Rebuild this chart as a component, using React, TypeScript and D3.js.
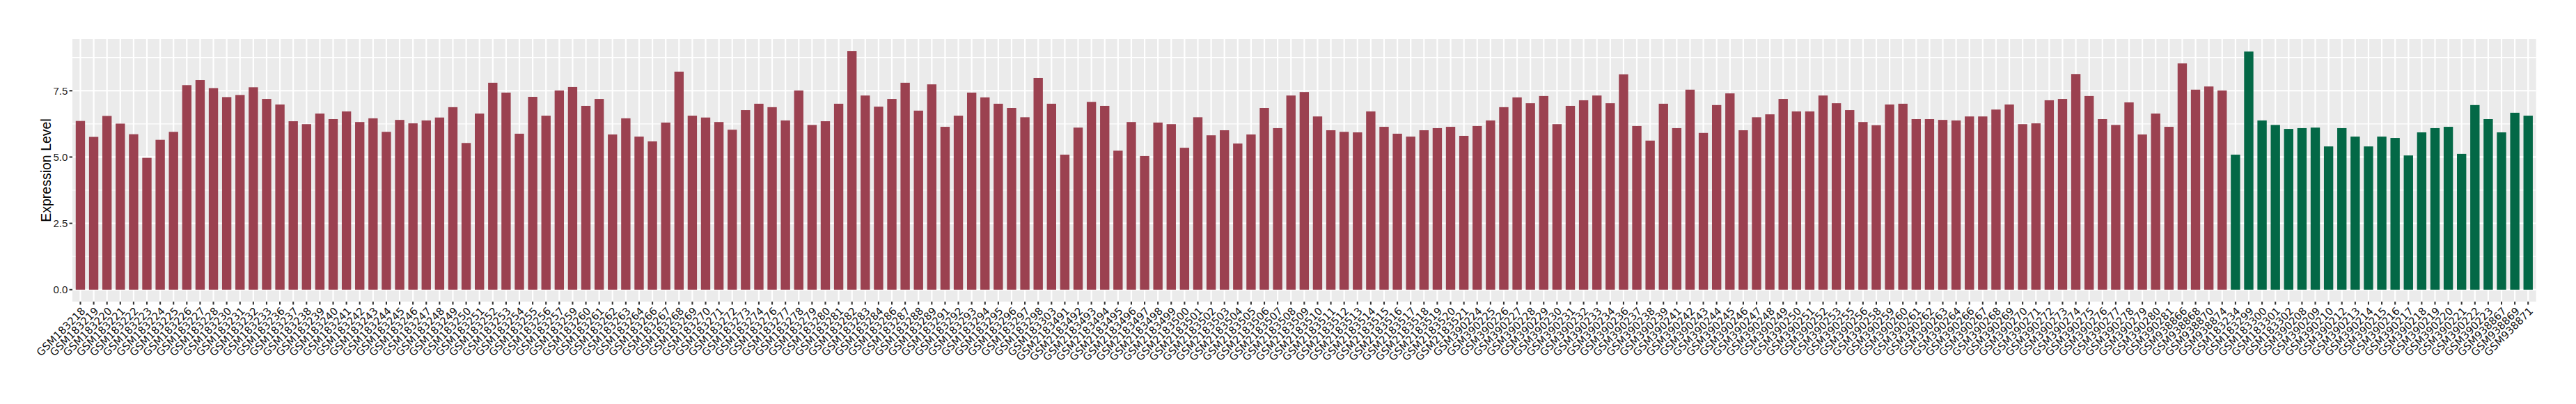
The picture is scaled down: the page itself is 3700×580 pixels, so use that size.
import React, { useEffect } from "react";
import * as d3 from "d3";

// Group 1 (dark red) samples and expression values
const redSamples: string[] = [
  "GSM183218","GSM183219","GSM183220","GSM183221","GSM183222","GSM183223","GSM183224","GSM183225","GSM183226","GSM183227","GSM183228","GSM183230","GSM183231","GSM183232","GSM183233",
  "GSM183236","GSM183237","GSM183238","GSM183239","GSM183240","GSM183241","GSM183242","GSM183243","GSM183244","GSM183245","GSM183246","GSM183247","GSM183248","GSM183249","GSM183250","GSM183251","GSM183252","GSM183253","GSM183254","GSM183255","GSM183256",
  "GSM183257","GSM183259","GSM183260","GSM183261","GSM183262","GSM183263","GSM183264","GSM183266","GSM183267","GSM183268","GSM183269","GSM183270","GSM183271","GSM183272","GSM183273","GSM183274","GSM183276","GSM183277","GSM183278","GSM183279","GSM183280",
  "GSM183281","GSM183282","GSM183283","GSM183284","GSM183286","GSM183287","GSM183288","GSM183289","GSM183291","GSM183292","GSM183293","GSM183294","GSM183295","GSM183296","GSM183297","GSM183298","GSM183303","GSM2183491","GSM2183492","GSM2183493","GSM2183494",
  "GSM2183495","GSM2183496","GSM2183497","GSM2183498","GSM2183499","GSM2183500","GSM2183501","GSM2183502","GSM2183503","GSM2183504","GSM2183505","GSM2183506","GSM2183507","GSM2183508","GSM2183509","GSM2183510","GSM2183511","GSM2183512","GSM2183513","GSM2183514","GSM2183515",
  "GSM2183516","GSM2183517","GSM2183518","GSM2183519","GSM2183520","GSM2183521","GSM390224","GSM390225","GSM390226","GSM390227","GSM390228","GSM390229","GSM390230","GSM390231","GSM390232","GSM390233","GSM390234","GSM390236","GSM390237","GSM390238","GSM390239",
  "GSM390241","GSM390242","GSM390243","GSM390244","GSM390245","GSM390246","GSM390247","GSM390248","GSM390249","GSM390250","GSM390251","GSM390252","GSM390253","GSM390255","GSM390256","GSM390258","GSM390259","GSM390260","GSM390261","GSM390262","GSM390263",
  "GSM390264","GSM390266","GSM390267","GSM390268","GSM390269","GSM390270","GSM390271","GSM390272","GSM390273","GSM390274","GSM390275","GSM390276","GSM390277","GSM390278","GSM390279","GSM390280","GSM390281","GSM938866","GSM938868","GSM938870","GSM938874"
];
const redValues: number[] = [
  6.36,5.76,6.55,6.26,5.86,4.97,5.65,5.95,7.71,7.90,7.60,7.26,7.34,7.63,7.19,
  6.98,6.35,6.24,6.64,6.43,6.72,6.32,6.46,5.95,6.40,6.27,6.38,6.49,6.88,5.53,6.64,7.80,7.43,5.88,7.27,6.56,
  7.51,7.64,6.93,7.19,5.85,6.46,5.77,5.59,6.30,8.22,6.56,6.49,6.32,6.03,6.77,7.01,6.88,6.38,7.51,6.21,6.35,
  7.01,9.00,7.32,6.90,7.19,7.80,6.75,7.74,6.14,6.56,7.43,7.25,7.01,6.85,6.50,7.98,7.01,5.09,6.11,7.08,6.93,
  5.24,6.32,5.04,6.30,6.24,5.35,6.50,5.82,6.01,5.51,5.85,6.85,6.09,7.32,7.45,6.53,6.01,5.95,5.93,6.72,6.14,
  5.88,5.77,6.01,6.09,6.14,5.80,6.17,6.38,6.88,7.25,7.03,7.30,6.24,6.93,7.14,7.32,7.03,8.12,6.17,5.62,7.01,
  6.09,7.54,5.91,6.96,7.40,6.01,6.50,6.61,7.19,6.72,6.72,7.32,7.03,6.77,6.32,6.20,6.98,7.01,6.43,6.43,6.40,
  6.38,6.53,6.53,6.79,6.98,6.24,6.27,7.14,7.19,8.13,7.30,6.43,6.21,7.06,5.85,6.64,6.14,8.53,7.54,7.66,7.51
];

// Group 2 (dark green) samples and expression values
const greenSamples: string[] = [
  "GSM183234","GSM183299","GSM183300","GSM183301","GSM183302","GSM390208","GSM390209","GSM390210","GSM390212","GSM390213","GSM390214","GSM390215","GSM390216","GSM390217","GSM390218","GSM390219","GSM390220","GSM390221","GSM390222","GSM390223","GSM938867","GSM938869","GSM938871"
];
const greenValues: number[] = [
  5.09,8.98,6.38,6.21,6.06,6.09,6.11,5.40,6.09,5.77,5.40,5.77,5.72,5.06,5.93,6.09,6.14,5.12,6.96,6.43,5.93,6.67,6.56
];

const yMajorTicks: number[] = [0, 2.5, 5, 7.5];
const yMinorTicks: number[] = [1.25, 3.75, 6.25, 8.75];
const yTitle = "Expression Level";

const RED = "#9B4150";
const GREEN = "#036846";

export default function App() {
  useEffect(() => {
    document.body.style.margin = "0";
  }, []);

  const W = 3700;
  const H = 580;
  const left = 104;
  const right = 3642.7;
  const top = 56;
  const bottom = 433;

  const rows = [
    ...redSamples.map((s, i) => ({ s, v: redValues[i], c: RED })),
    ...greenSamples.map((s, i) => ({ s, v: greenValues[i], c: GREEN })),
  ];
  const maxV = d3.max(rows, (d) => d.v) as number;

  const x = d3
    .scaleBand<string>()
    .domain(rows.map((d) => d.s))
    .range([left, right])
    .paddingInner(0.3)
    .paddingOuter(0.25);

  const y = d3
    .scaleLinear()
    .domain([-0.05 * maxV, 1.05 * maxV])
    .range([bottom, top]);

  const bw = x.bandwidth();
  const cx = (s: string) => (x(s) as number) + bw / 2;
  const fmt = d3.format(".1f");

  return (
    <svg width={W} height={H} style={{ display: "block", background: "#fff" }}>
      <rect x={left} y={top} width={right - left} height={bottom - top} fill="#EBEBEB" />
      {yMinorTicks.map((t) => (
        <line key={"mi" + t} x1={left} x2={right} y1={y(t)} y2={y(t)} stroke="#fff" strokeWidth={1.1} />
      ))}
      {yMajorTicks.map((t) => (
        <line key={"ma" + t} x1={left} x2={right} y1={y(t)} y2={y(t)} stroke="#fff" strokeWidth={2.2} />
      ))}
      {rows.map((d) => (
        <line key={"vg" + d.s} x1={cx(d.s)} x2={cx(d.s)} y1={top} y2={bottom} stroke="#fff" strokeWidth={2.2} />
      ))}
      {rows.map((d) => (
        <rect key={"b" + d.s} x={x(d.s)} y={y(d.v)} width={bw} height={y(0) - y(d.v)} fill={d.c} />
      ))}
      {yMajorTicks.map((t) => (
        <g key={"yt" + t}>
          <line x1={left - 4.4} x2={left} y1={y(t)} y2={y(t)} stroke="#333" strokeWidth={2.1} />
          <text
            x={left - 6.6}
            y={y(t)}
            dy="0.35em"
            textAnchor="end"
            fontFamily="Liberation Sans, Arial, sans-serif"
            fontSize={15}
            fill="#222"
          >
            {fmt(t)}
          </text>
        </g>
      ))}
      {rows.map((d) => (
        <g key={"xt" + d.s}>
          <line x1={cx(d.s)} x2={cx(d.s)} y1={bottom} y2={bottom + 4.4} stroke="#333" strokeWidth={2.1} />
          <text
            transform={`translate(${cx(d.s)},${bottom + 6.6}) rotate(-45)`}
            dy="0.75em"
            textAnchor="end"
            fontFamily="DejaVu Sans, sans-serif"
            fontSize={15}
            fill="#111"
          >
            {d.s}
          </text>
        </g>
      ))}
      <text
        transform={`translate(${66},${(top + bottom) / 2}) rotate(-90)`}
        dy="0.35em"
        textAnchor="middle"
        fontFamily="Liberation Sans, Arial, sans-serif"
        fontSize={19.5}
        fill="#000"
      >
        {yTitle}
      </text>
    </svg>
  );
}
